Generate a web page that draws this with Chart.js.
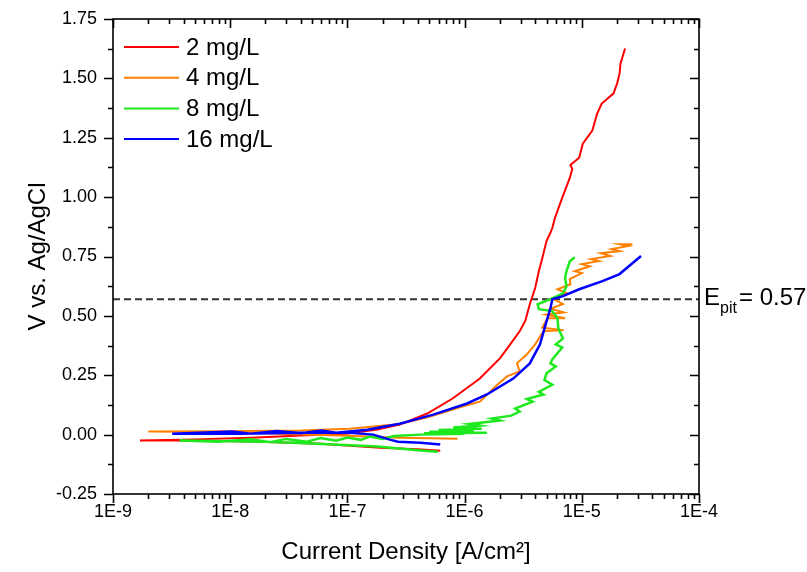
<!DOCTYPE html>
<html>
<head>
<meta charset="utf-8">
<script src="https://cdn.jsdelivr.net/npm/chart.js@4.4.1/dist/chart.umd.min.js"></script>
<style>
  body { margin: 0; background: #fff; }
  canvas { display: block; }
</style>
</head>
<body>
<canvas id="myChart" width="807" height="572"></canvas>
<script>
// series labels and colours
const seriesNames = ['2 mg/L', '4 mg/L', '8 mg/L', '16 mg/L'];
const seriesColors = ['#ff0000', '#ff8000', '#1ee81e', '#0000ff'];

// x tick labels (decades) and y ticks
const xTicks = [1e-9, 1e-8, 1e-7, 1e-6, 1e-5, 1e-4];
const yTicks = [-0.25, 0, 0.25, 0.5, 0.75, 1.0, 1.25, 1.5, 1.75];
const EPIT = 0.57;

// 2 mg/L : current density (A/cm2) and potential (V)
const i2 = [6.2e-7, 4.0e-7, 1.9e-7, 5.9e-8, 1.8e-8, 5.5e-9, 1.7e-9,
  5.0e-9, 1.5e-8, 4.0e-8, 9.8e-8, 1.8e-7, 2.8e-7, 4.8e-7, 7.9e-7, 1.35e-6, 2.0e-6, 2.45e-6, 2.95e-6,
  3.3e-6, 3.6e-6, 4.0e-6, 4.3e-6, 4.6e-6, 5.0e-6, 5.4e-6, 5.6e-6, 5.9e-6, 6.8e-6, 7.9e-6, 8.3e-6, 8.0e-6,
  9.5e-6, 1.02e-5, 1.23e-5, 1.35e-5, 1.48e-5, 1.86e-5, 2.0e-5, 2.1e-5, 2.14e-5, 2.34e-5];
const v2 = [-0.068, -0.062, -0.055, -0.038, -0.030, -0.025, -0.025,
  -0.020, -0.013, -0.004, 0.004, 0.022, 0.042, 0.089, 0.152, 0.236, 0.321, 0.380, 0.435,
  0.480, 0.549, 0.617, 0.688, 0.743, 0.815, 0.850, 0.870, 0.912, 0.997, 1.081, 1.119, 1.135,
  1.166, 1.225, 1.280, 1.351, 1.394, 1.436, 1.478, 1.520, 1.563, 1.626];

// 4 mg/L
const i4 = [8.7e-7, 5.0e-7, 2.8e-7, 8.7e-8, 2.6e-8, 8.1e-9, 2.0e-9,
  8.1e-9, 4.0e-8, 1.05e-7, 2.8e-7, 5.0e-7, 9.1e-7, 1.35e-6, 1.9e-6, 2.3e-6, 2.95e-6, 2.8e-6, 3.4e-6,
  4.0e-6, 4.7e-6, 7.0e-6, 4.6e-6, 5.1e-6, 7.2e-6, 5.0e-6, 7.0e-6, 5.4e-6, 6.9e-6, 5.6e-6,
  7.5e-6, 6.2e-6, 8.0e-6,
  7.9e-6, 1.0e-5, 8.7e-6, 1.17e-5, 1.0e-5, 1.4e-5, 1.2e-5, 1.75e-5, 1.45e-5, 2.1e-5, 1.8e-5,
  2.5e-5, 2.1e-5, 2.7e-5];
const v4 = [-0.017, -0.015, -0.013, -0.004, 0.004, 0.011, 0.013,
  0.014, 0.017, 0.025, 0.045, 0.075, 0.115, 0.139, 0.210, 0.245, 0.266, 0.300, 0.338,
  0.380, 0.435, 0.440, 0.450, 0.490, 0.490, 0.505, 0.515, 0.530, 0.550, 0.574,
  0.595, 0.612, 0.633,
  0.655, 0.680, 0.688, 0.709, 0.718, 0.731, 0.739, 0.752, 0.764, 0.773, 0.781,
  0.794, 0.802, 0.802];

// 8 mg/L
const i8 = [5.9e-7, 4.0e-7, 1.8e-7, 5.5e-8, 2.0e-8, 3.7e-9,
  8.0e-9, 1.5e-8, 2.2e-8, 3.0e-8, 4.5e-8, 5.9e-8, 8.0e-8, 1.0e-7, 1.3e-7, 1.55e-7, 2.0e-7, 2.5e-7,
  4.2e-7, 1.0e-6, 4.5e-7, 1.55e-6, 5.0e-7, 1.2e-6,
  6.0e-7, 1.4e-6, 8.0e-7, 1.35e-6, 1.1e-6, 2.0e-6, 1.7e-6, 2.5e-6, 2.95e-6, 2.7e-6, 3.8e-6, 3.4e-6,
  4.7e-6, 4.3e-6, 5.6e-6, 4.8e-6, 5.0e-6, 6.0e-6, 5.4e-6, 5.6e-6, 6.8e-6, 6.0e-6, 6.9e-6, 6.3e-6,
  6.2e-6, 5.6e-6, 4.3e-6, 4.2e-6, 5.6e-6, 6.9e-6, 7.4e-6, 7.2e-6, 7.4e-6, 7.9e-6, 8.7e-6];
const v8 = [-0.072, -0.066, -0.050, -0.038, -0.030, -0.025,
  -0.030, -0.020, -0.032, -0.018, -0.030, -0.014, -0.026, -0.012, -0.022, -0.008, -0.018, -0.006,
  0.000, 0.004, 0.006, 0.008, 0.012, 0.016,
  0.020, 0.025, 0.030, 0.038, 0.045, 0.059, 0.068, 0.080, 0.097, 0.110, 0.139, 0.150,
  0.169, 0.180, 0.210, 0.230, 0.258, 0.287, 0.300, 0.317, 0.367, 0.380, 0.405, 0.448,
  0.490, 0.520, 0.528, 0.549, 0.574, 0.595, 0.625, 0.660, 0.688, 0.730, 0.747];

// 16 mg/L
const i16 = [6.2e-7, 4.2e-7, 2.7e-7, 2.3e-7, 1.66e-7, 1.05e-7, 4.0e-8, 1.2e-8, 3.2e-9,
  1.05e-8, 1.5e-8, 2.5e-8, 4.0e-8, 6.0e-8, 8.0e-8, 1.48e-7, 2.8e-7, 5.4e-7, 1.05e-6, 1.55e-6,
  2.6e-6, 3.6e-6, 4.4e-6, 5.0e-6, 5.4e-6, 5.6e-6, 6.9e-6, 9.5e-6, 1.5e-5, 2.1e-5, 3.2e-5];
const v16 = [-0.042, -0.034, -0.030, -0.021, 0.000, 0.008, 0.008, 0.004, 0.004,
  0.013, 0.004, 0.015, 0.006, 0.017, 0.008, 0.021, 0.046, 0.084, 0.131, 0.169,
  0.236, 0.300, 0.380, 0.477, 0.532, 0.570, 0.583, 0.612, 0.646, 0.676, 0.752];

const currents = [i2, i4, i8, i16];
const potentials = [v2, v4, v8, v16];

const FONT = "'Liberation Sans', Arial, Helvetica, sans-serif";

function toPoints(xs, ys) {
  return xs.map((x, k) => ({x: x, y: ys[k]}));
}

const datasets = seriesNames.map((name, s) => ({
  label: name,
  data: toPoints(currents[s], potentials[s]),
  borderColor: seriesColors[s],
  borderWidth: s >= 2 ? 2.5 : 2,
  pointRadius: 0,
  showLine: true,
  tension: 0,
  order: 4 - s
}));

datasets.push({
  label: 'Epit',
  data: [{x: xTicks[0], y: EPIT}, {x: xTicks[xTicks.length - 1], y: EPIT}],
  borderColor: '#333',
  borderWidth: 2,
  borderDash: [7, 4],
  pointRadius: 0,
  showLine: true,
  order: 5
});

const frameAndLegend = {
  id: 'frameAndLegend',
  afterDatasetsDraw(chart) {
    const ctx = chart.ctx;
    const a = chart.chartArea;
    const xs = chart.scales.x, ys = chart.scales.y;
    ctx.save();
    ctx.strokeStyle = '#000';
    ctx.lineWidth = 1.6;
    ctx.strokeRect(a.left, a.top, a.right - a.left, a.bottom - a.top);
    ctx.beginPath();
    // log minor/major ticks, outward at bottom, inward at top
    for (let e = -9; e <= -4; e++) {
      for (let m = 1; m <= 9; m++) {
        if (e === -4 && m > 1) break;
        const px = Math.round(xs.getPixelForValue(m * Math.pow(10, e))) + 0.5;
        const len = m === 1 ? 9 : 5;
        ctx.moveTo(px, a.bottom); ctx.lineTo(px, a.bottom + len);
        ctx.moveTo(px, a.top); ctx.lineTo(px, a.top + len);
      }
    }
    for (let k = 0; k <= 16; k++) {
      const py = Math.round(ys.getPixelForValue(-0.25 + k * 0.125)) + 0.5;
      const len = k % 2 === 0 ? 9 : 5;
      ctx.moveTo(a.left, py); ctx.lineTo(a.left - len, py);
      ctx.moveTo(a.right, py); ctx.lineTo(a.right - len, py);
    }
    ctx.stroke();

    // legend inside the plot
    ctx.font = '24px ' + FONT;
    ctx.textBaseline = 'middle';
    ctx.fillStyle = '#000';
    seriesNames.forEach((name, s) => {
      const ly = a.top + 28 + s * 30.7;
      ctx.strokeStyle = seriesColors[s];
      ctx.lineWidth = 2;
      ctx.beginPath();
      ctx.moveTo(a.left + 11, ly);
      ctx.lineTo(a.left + 66, ly);
      ctx.stroke();
      ctx.fillText(name, a.left + 73, ly + 1);
    });

    // E_pit label
    const ey = ys.getPixelForValue(EPIT);
    ctx.textBaseline = 'alphabetic';
    ctx.font = '24px ' + FONT;
    ctx.fillText('E', a.right + 5, ey + 6);
    ctx.font = '16px ' + FONT;
    ctx.fillText('pit', a.right + 21, ey + 14);
    ctx.font = '24px ' + FONT;
    ctx.fillText('= 0.57', a.right + 40, ey + 6);
    ctx.restore();
  }
};

const ctx = document.getElementById('myChart').getContext('2d');
const myChart = new Chart(ctx, {
  type: 'scatter',
  data: { datasets: datasets },
  options: {
    responsive: false,
    animation: false,
    layout: { padding: { top: 19, right: 108, bottom: 0, left: 0 } },
    plugins: {
      legend: { display: false },
      tooltip: { enabled: false }
    },
    scales: {
      x: {
        type: 'logarithmic',
        min: 1e-9,
        max: 1e-4,
        afterFit: (scale) => {
          scale.height = 78;
          scale.paddingLeft = 0; scale.paddingRight = 0;
        },
        afterBuildTicks: (scale) => { scale.ticks = xTicks.map(v => ({value: v})); },
        grid: { display: false, drawTicks: false },
        border: { display: false },
        ticks: {
          color: '#000',
          font: { family: FONT, size: 18 },
          padding: 7,
          maxRotation: 0,
          autoSkip: false,
          callback: (v) => '1E' + Math.round(Math.log10(v))
        },
        title: {
          display: true,
          text: 'Current Density [A/cm²]',
          color: '#000',
          font: { family: FONT, size: 24 },
          padding: { top: 0, bottom: 5 }
        }
      },
      y: {
        min: -0.25,
        max: 1.75,
        afterFit: (scale) => {
          scale.width = 113;
          scale.paddingTop = 0; scale.paddingBottom = 0;
        },
        afterBuildTicks: (scale) => { scale.ticks = yTicks.map(v => ({value: v})); },
        grid: { display: false, drawTicks: false },
        border: { display: false },
        ticks: {
          color: '#000',
          font: { family: FONT, size: 18 },
          padding: 16,
          callback: (v) => v.toFixed(2)
        },
        title: {
          display: true,
          text: 'V vs. Ag/AgCl',
          color: '#000',
          font: { family: FONT, size: 24 },
          padding: { top: 24, bottom: 0 }
        }
      }
    }
  },
  plugins: [frameAndLegend]
});
</script>
</body>
</html>
